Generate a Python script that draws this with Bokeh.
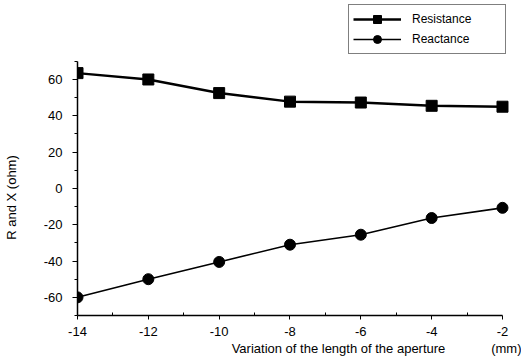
from bokeh.plotting import figure
from bokeh.models import FixedTicker, Range1d, Legend, LegendItem, CustomJSTickFormatter, LinearAxis
from bokeh.embed import file_html
from bokeh.resources import INLINE

# data
length_mm = [-14, -12, -10, -8, -6, -4, -2]
resistance = [63.5, 60, 52.5, 47.8, 47.3, 45.5, 45]
reactance = [-60, -50, -40.5, -31, -25.5, -16.3, -10.7]

x_major = [-14, -12, -10, -8, -6, -4, -2]
x_minor = [-13, -11, -9, -7, -5, -3]
y_major = [-60, -40, -20, 0, 20, 40, 60]
y_minor = [-70, -50, -30, -10, 10, 30, 50, 70]

x_title = "Variation of the length of the aperture"
x_unit = "(mm)"
y_title = "R and X (ohm)"

FONT = "Liberation Sans"
FS = "13px"

p = figure(width=521, height=358, output_backend="svg", toolbar_location=None,
           x_range=Range1d(-14, -1.689), y_range=Range1d(-70, 103.5),
           min_border_left=77, min_border_right=8, min_border_top=0, min_border_bottom=42)
p.outline_line_color = None
p.grid.visible = False
p.background_fill_color = "white"
p.border_fill_color = "white"

r1 = p.line(length_mm, resistance, line_color="black", line_width=2.5)
m1 = p.scatter(length_mm, resistance, marker="square", size=11, fill_color="black", line_color="black")
r2 = p.line(length_mm, reactance, line_color="black", line_width=1.6)
m2 = p.scatter(length_mm, reactance, marker="circle", size=11, fill_color="black", line_color="black")

fmt = CustomJSTickFormatter(code="return String(tick);")

xa = p.xaxis[0]
xa.ticker = FixedTicker(ticks=x_major, minor_ticks=x_minor)
xa.formatter = fmt
xa.bounds = (-14, -2)
xa.major_tick_out = 4
xa.major_tick_in = 0
xa.minor_tick_out = 0
xa.minor_tick_in = 3
xa.major_label_standoff = 7
xa.major_label_text_font = FONT
xa.major_label_text_font_size = FS
xa.major_label_text_color = "black"
xa.axis_line_width = 1.5

ya = p.yaxis[0]
ya.ticker = FixedTicker(ticks=y_major, minor_ticks=y_minor)
ya.formatter = fmt
ya.bounds = (-70, 70)
ya.major_tick_out = 5
ya.major_tick_in = 0
ya.minor_tick_out = 3
ya.minor_tick_in = 0
ya.major_label_standoff = 10
ya.major_label_text_font = FONT
ya.major_label_text_font_size = FS
ya.major_label_text_color = "black"
ya.axis_line_width = 1.5

# title rows drawn as tick labels of secondary axes (same row for title and unit)
xt = LinearAxis(ticker=FixedTicker(ticks=[-6.63, -1.887], minor_ticks=[]),
                formatter=CustomJSTickFormatter(args=dict(a=x_title, b=x_unit),
                                                code="return index == 0 ? a : b;"))
xt.axis_line_color = None
xt.major_tick_line_color = None
xt.minor_tick_line_color = None
xt.major_tick_out = 0
xt.major_label_standoff = 2
xt.major_label_text_font = FONT
xt.major_label_text_font_size = FS
xt.major_label_text_color = "black"
p.add_layout(xt, "below")

yt = LinearAxis(ticker=FixedTicker(ticks=[-5], minor_ticks=[]),
                formatter=CustomJSTickFormatter(args=dict(a=y_title), code="return a;"))
yt.axis_line_color = None
yt.major_tick_line_color = None
yt.minor_tick_line_color = None
yt.major_tick_out = 0
yt.major_label_standoff = 21
yt.major_label_orientation = "vertical"
yt.major_label_text_font = FONT
yt.major_label_text_font_size = FS
yt.major_label_text_color = "black"
p.add_layout(yt, "left")

legend = Legend(items=[LegendItem(label="Resistance", renderers=[r1, m1]),
                       LegendItem(label="Reactance", renderers=[r2, m2])],
                location=(271, 261))
legend.border_line_color = "black"
legend.border_line_width = 1
legend.label_text_font = FONT
legend.label_text_font_size = "12px"
legend.label_text_color = "black"
legend.glyph_width = 48
legend.glyph_height = 20
legend.label_height = 20
legend.label_width = 89
legend.spacing = 0
legend.padding = 4
legend.margin = 0
legend.label_standoff = 11
p.add_layout(legend, "center")

open("out.html", "w").write(file_html(p, INLINE))
